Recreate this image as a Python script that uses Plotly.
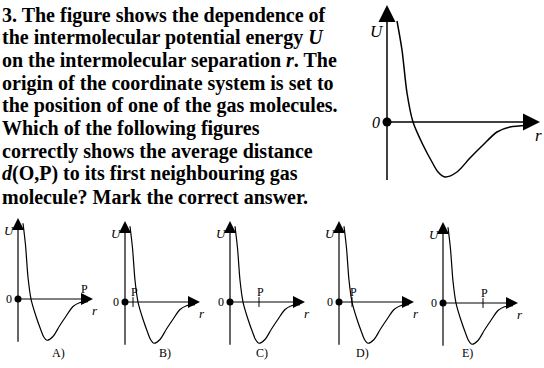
import plotly.graph_objects as go

# question text, one entry per printed line (italic parts marked with <i>)
question_lines = [
    "3. The figure shows the dependence of",
    "the intermolecular potential energy <i>U</i>",
    "on the intermolecular separation <i>r</i>. The",
    "origin of the coordinate system is set to",
    "the position of one of the gas molecules.",
    "Which of the following figures",
    "correctly shows the average distance",
    "<i>d</i>(O,P) to its first neighbouring gas",
    "molecule? Mark the correct answer.",
]

# potential curve U(r) (arbitrary units)
r_curve = [1.0, 1.5, 2.0, 2.6, 3.6, 4.5, 5.1, 5.8, 7.0, 8.3, 9.6, 11.0, 12.3, 14.0]
u_curve = [10.1, 7.2, 2.9, 0.0, -2.3, -4.0, -5.0, -5.5, -5.0, -3.6, -2.3, -1.0, -0.5, -0.35]

# answer options and where P sits on the r axis in each
options = ["A)", "B)", "C)", "D)", "E)"]
p_pos = [13.0, 1.6, 5.8, 2.6, 8.0]

W, H = 544, 368
SERIF = "Liberation Serif"


def fx(p):
    return p / W


def fy(p):
    return 1 - p / H


fig = go.Figure()


def add_plot(n, ox, oy, sx, sy, x_rng, y_top, y_bot, u_tip, r_tip, u_low,
             lw, dot, head, lab_size, u_lab, r_shift, p=None, caption=None,
             zero_italic=False):
    xa = "x" if n == 1 else f"x{n}"
    ya = "y" if n == 1 else f"y{n}"
    sfx = "" if n == 1 else str(n)
    # pixel domain from origin + scale
    x0 = ox + x_rng[0] * sx
    x1 = ox + x_rng[1] * sx
    top = oy - y_top * sy
    bot = oy - y_bot * sy
    fig.layout["xaxis" + sfx] = dict(
        domain=[fx(x0), fx(x1)], range=x_rng, visible=False, fixedrange=True,
        anchor=ya)
    fig.layout["yaxis" + sfx] = dict(
        domain=[fy(bot), fy(top)], range=[y_bot, y_top], visible=False,
        fixedrange=True, anchor=xa)

    common = dict(xaxis=xa, yaxis=ya, hoverinfo="skip", cliponaxis=False)
    # axes
    fig.add_trace(go.Scatter(x=[0, 0], y=[u_low, u_tip - 0.6], mode="lines",
                             line=dict(color="black", width=lw), **common))
    fig.add_trace(go.Scatter(x=[0, r_tip - 0.6], y=[0, 0], mode="lines",
                             line=dict(color="black", width=lw), **common))
    # arrow heads
    fig.add_trace(go.Scatter(x=[0], y=[u_tip], mode="markers",
                             marker=dict(symbol="arrow-up", size=head,
                                         color="black", line_width=0),
                             **common))
    fig.add_trace(go.Scatter(x=[r_tip], y=[0], mode="markers",
                             marker=dict(symbol="arrow-right", size=head,
                                         color="black", line_width=0),
                             **common))
    # curve
    fig.add_trace(go.Scatter(x=r_curve, y=u_curve, mode="lines",
                             line=dict(color="black", width=lw, shape="spline",
                                       smoothing=0.8),
                             **common))
    # origin dot
    fig.add_trace(go.Scatter(x=[0], y=[0], mode="markers",
                             marker=dict(color="black", size=dot), **common))
    zero = "<i>0</i>" if zero_italic else "0"
    fig.add_annotation(x=0, y=0, xref=xa, yref=ya, text=zero, showarrow=False,
                       xanchor="right", xshift=-dot / 2 - 1,
                       font=dict(family=SERIF, size=lab_size, color="black"))
    fig.add_annotation(x=0, y=u_lab, xref=xa, yref=ya, text="<i>U</i>",
                       showarrow=False, xanchor="right", xshift=-1,
                       font=dict(family=SERIF, size=lab_size + 1, color="black"))
    fig.add_annotation(x=r_tip, y=0, xref=xa, yref=ya, text="<i>r</i>",
                       showarrow=False, xanchor="center", yanchor="top",
                       yshift=-2, xshift=r_shift,
                       font=dict(family=SERIF, size=lab_size + 1, color="black"))
    if p is not None:
        fig.add_trace(go.Scatter(x=[p], y=[0], mode="markers",
                                 marker=dict(symbol="line-ns", size=7,
                                             line=dict(color="black", width=1)),
                                 **common))
        fig.add_annotation(x=p, y=0, xref=xa, yref=ya, text="P",
                           showarrow=False, yanchor="bottom", yshift=1,
                           xshift=1,
                           font=dict(family=SERIF, size=12, color="black"))
    if caption is not None:
        fig.add_annotation(x=fx(ox + 32), y=fy(362), xref="paper",
                           yref="paper", text=caption, showarrow=False,
                           font=dict(family=SERIF, size=12, color="black"))


# large reference figure
add_plot(1, 387, 122, 10, 10, [-1, 15.6], 11.9, -6.1, 11.7, 15.3, -5.8,
         1.5, 9, 17, 16, 9.0, -2, zero_italic=True)

# five answer figures
small_ox = [18, 125, 230, 339, 443]
small_oy = [299, 302, 302, 302, 303]
for i, (lab, p) in enumerate(zip(options, p_pos)):
    add_plot(i + 2, small_ox[i], small_oy[i], 5, 7.5, [-1, 16], 11.07, -6.0,
             10.8, 15.0, -5.7, 1.2, 7, 12, 12, 9.1, 2, p=p, caption=lab)

# question text
for k, line in enumerate(question_lines):
    fig.add_annotation(x=fx(0), y=fy(15 + k * 22.7), xref="paper", yref="paper",
                       text=f"<b>{line}</b>", showarrow=False, xanchor="left",
                       yanchor="middle",
                       font=dict(family=SERIF, size=20, color="black"))

fig.update_layout(width=W, height=H, margin=dict(l=0, r=0, t=0, b=0),
                  paper_bgcolor="white", plot_bgcolor="white",
                  showlegend=False)

# the page's default body margin would shift the whole picture
fig.write_html("out.html", config={"displayModeBar": False},
               post_script="document.body.style.margin='0';")
